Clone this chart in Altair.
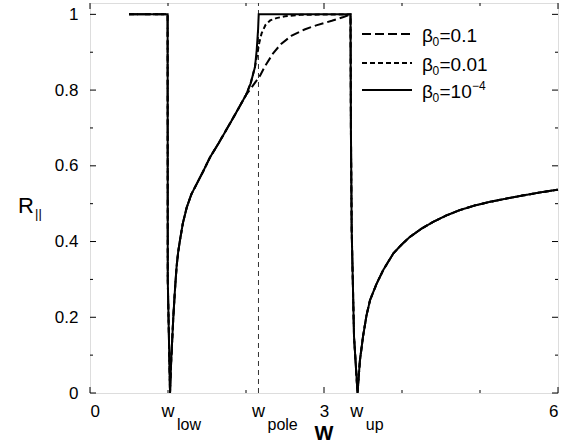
import altair as alt
import pandas as pd

# ---------------- data ----------------
# branch shared by all three curves (below the pole)
left_x = [0.5, 0.995, 0.997, 1.026, 1.04, 1.068, 1.09, 1.11, 1.13, 1.154, 1.19, 1.24, 1.30, 1.37, 1.45, 1.54, 1.65, 1.795, 1.9, 2.0]
left_y = [1.0, 1.0, 0.30, 0.0, 0.08, 0.20, 0.275, 0.333, 0.372, 0.404, 0.448, 0.49, 0.525, 0.553, 0.585, 0.623, 0.66, 0.712, 0.75, 0.787]

# region between w_pole and w_up, per beta_0
pole_x_b1 = [2.1, 2.18, 2.24, 2.35, 2.45, 2.58, 2.75, 2.9, 3.1, 3.25, 3.34]
pole_y_b1 = [0.815, 0.838, 0.862, 0.898, 0.922, 0.943, 0.96, 0.971, 0.983, 0.993, 1.0]

pole_x_b2 = [2.06, 2.115, 2.14, 2.17, 2.2, 2.25, 2.31, 2.39, 2.5, 2.7, 3.34]
pole_y_b2 = [0.818, 0.861, 0.89, 0.925, 0.95, 0.972, 0.984, 0.99, 0.995, 0.999, 1.0]

pole_x_b4 = [2.06, 2.115, 2.137, 2.155, 2.163, 3.34]
pole_y_b4 = [0.818, 0.861, 0.905, 0.96, 1.0, 1.0]

# branch shared by all three curves (above w_up)
right_x = [3.345, 3.355, 3.385, 3.43, 3.46, 3.50, 3.545, 3.59, 3.675, 3.76, 3.89, 4.0, 4.10, 4.25, 4.40, 4.57, 4.74, 4.93, 5.13, 5.35, 5.56, 5.78, 6.0]
right_y = [0.7, 0.43, 0.149, 0.0, 0.085, 0.149, 0.205, 0.245, 0.289, 0.325, 0.369, 0.393, 0.412, 0.434, 0.452, 0.469, 0.483, 0.495, 0.505, 0.514, 0.522, 0.53, 0.537]

series_names = ["β₀=0.1", "β₀=0.01", "β₀=10⁻⁴"]
legend_values = ["=0.1", "=0.01", "=10"]
legend_sup = ["", "", "−4"]
w_pole = 2.16
w_marks = [1.0, 2.16, 3.42]
w_subs = ["low", "pole", "up"]

x_major = [0, 3, 6]
x_minor = [1, 2, 4, 5]
y_major = [0, 0.2, 0.4, 0.6, 0.8, 1.0]
y_minor = [0.1, 0.3, 0.5, 0.7, 0.9]

# ---------------- build tables ----------------
def curve_df(px, py, name):
    xs_ = left_x + px + right_x
    ys_ = left_y + py + right_y
    return pd.DataFrame({"x": xs_, "y": ys_, "i": list(range(len(xs_))), "series": name})

dfs = [curve_df(pole_x_b1, pole_y_b1, series_names[0]),
       curve_df(pole_x_b2, pole_y_b2, series_names[1]),
       curve_df(pole_x_b4, pole_y_b4, series_names[2])]
dashes = [[9, 4], [5, 3], [1, 0]]

W, H = 468, 390
FONT = "Liberation Sans"
xs = alt.Scale(domain=[0, 6], nice=False, zero=False)
ys = alt.Scale(domain=[0, 1.03], nice=False, zero=False)

x_axis = alt.Axis(values=x_major, format="d", ticks=False, domain=False, grid=False,
                  labelFontSize=17, labelFont=FONT, labelColor="black", labelPadding=10, title=None)
y_axis = alt.Axis(values=y_major, ticks=False, domain=False, grid=False,
                  labelExpr="datum.value == 0 ? '0' : datum.value == 1 ? '1' : format(datum.value, '.1f')",
                  labelFontSize=17, labelFont=FONT, labelColor="black", labelPadding=12, title=None)

def X(f):
    return alt.X(f, scale=xs, axis=x_axis)

def Y(f):
    return alt.Y(f, scale=ys, axis=y_axis)

layers = []
# pole line
pole_df = pd.DataFrame({"x": [w_pole], "y0": [0.0], "y1": [1.03]})
layers.append(alt.Chart(pole_df).mark_rule(color="#333", strokeWidth=1, strokeDash=[5, 4]).encode(
    x=X("x:Q"), y=Y("y0:Q"), y2="y1:Q"))

# curves (dashed first, solid last)
for d, dash in zip(dfs, dashes):
    layers.append(alt.Chart(d).mark_line(color="black", strokeWidth=2, strokeDash=dash).encode(
        x=X("x:Q"), y=Y("y:Q"), order="i:Q"))

# inward ticks
def yt(vals, length):
    df = pd.DataFrame({"v": vals})
    l = alt.Chart(df).mark_rule(color="black", strokeWidth=1).encode(
        y=Y("v:Q"), x=alt.value(0), x2=alt.value(length))
    r = alt.Chart(df).mark_rule(color="black", strokeWidth=1).encode(
        y=Y("v:Q"), x=alt.value(W), x2=alt.value(W - length))
    return [l, r]

def xt(vals, length):
    df = pd.DataFrame({"v": vals})
    b = alt.Chart(df).mark_rule(color="black", strokeWidth=1).encode(
        x=X("v:Q"), y=alt.value(H), y2=alt.value(H - length))
    t = alt.Chart(df).mark_rule(color="black", strokeWidth=1).encode(
        x=X("v:Q"), y=alt.value(0), y2=alt.value(length))
    return [b, t]

layers += yt(y_major, 6) + yt(y_minor, 3) + xt(x_major, 6) + xt(x_minor, 3)

# w labels
wdf = pd.DataFrame({"x": w_marks, "sub": w_subs})
layers.append(alt.Chart(wdf).mark_text(text="w", fontSize=18, font=FONT, align="center",
                                       baseline="alphabetic", color="black").encode(
    x=X("x:Q"), y=alt.value(414)))
layers.append(alt.Chart(wdf).mark_text(fontSize=16, font=FONT, align="left", dx=9,
                                       baseline="alphabetic", color="black").encode(
    x=X("x:Q"), y=alt.value(427), text="sub:N"))

# axis titles
one = pd.DataFrame({"a": [0]})
layers.append(alt.Chart(one).mark_text(text="W", fontSize=20, font=FONT, fontWeight="bold",
                                       align="center", baseline="alphabetic", color="black").encode(
    x=alt.value(234), y=alt.value(437)))
layers.append(alt.Chart(one).mark_text(text="R", fontSize=22, font=FONT, align="center",
                                       baseline="alphabetic", color="black").encode(
    x=alt.value(-64), y=alt.value(210)))
layers.append(alt.Chart(one).mark_text(text="||", fontSize=13, font=FONT, align="left",
                                       baseline="alphabetic", color="black").encode(
    x=alt.value(-55), y=alt.value(215)))

# legend (beta, subscript 0, value, optional superscript)
leg_y = [31, 60, 87]
for name, val, sup, dash, ly in zip(series_names, legend_values, legend_sup, dashes, leg_y):
    ldf = pd.DataFrame({"label": [name], "val": [val], "sup": [sup]})
    base = ly + 8
    layers.append(alt.Chart(ldf).mark_rule(color="black", strokeWidth=2, strokeDash=dash).encode(
        x=alt.value(272), x2=alt.value(322), y=alt.value(ly)))
    layers.append(alt.Chart(ldf).mark_text(text="β", fontSize=19, font=FONT, align="left",
                                           baseline="alphabetic", color="black").encode(
        x=alt.value(332), y=alt.value(base)))
    layers.append(alt.Chart(ldf).mark_text(text="0", fontSize=12, font=FONT, align="left",
                                           baseline="alphabetic", color="black").encode(
        x=alt.value(342.5), y=alt.value(base + 4)))
    layers.append(alt.Chart(ldf).mark_text(fontSize=19, font=FONT, align="left",
                                           baseline="alphabetic", color="black").encode(
        x=alt.value(349.5), y=alt.value(base), text="val:N"))
    if sup:
        layers.append(alt.Chart(ldf).mark_text(fontSize=12, font=FONT, align="left",
                                               baseline="alphabetic", color="black").encode(
            x=alt.value(382), y=alt.value(base - 8), text="sup:N"))

chart = alt.layer(*layers).properties(
    width=W, height=H,
    padding={"left": 90, "top": 3, "right": 18, "bottom": 54},
    autosize=alt.AutoSizeParams(type="none"),
).configure_view(stroke="black", strokeWidth=1).configure(background="white")

chart.save("out.html", embed_options={"renderer": "svg", "actions": False})
